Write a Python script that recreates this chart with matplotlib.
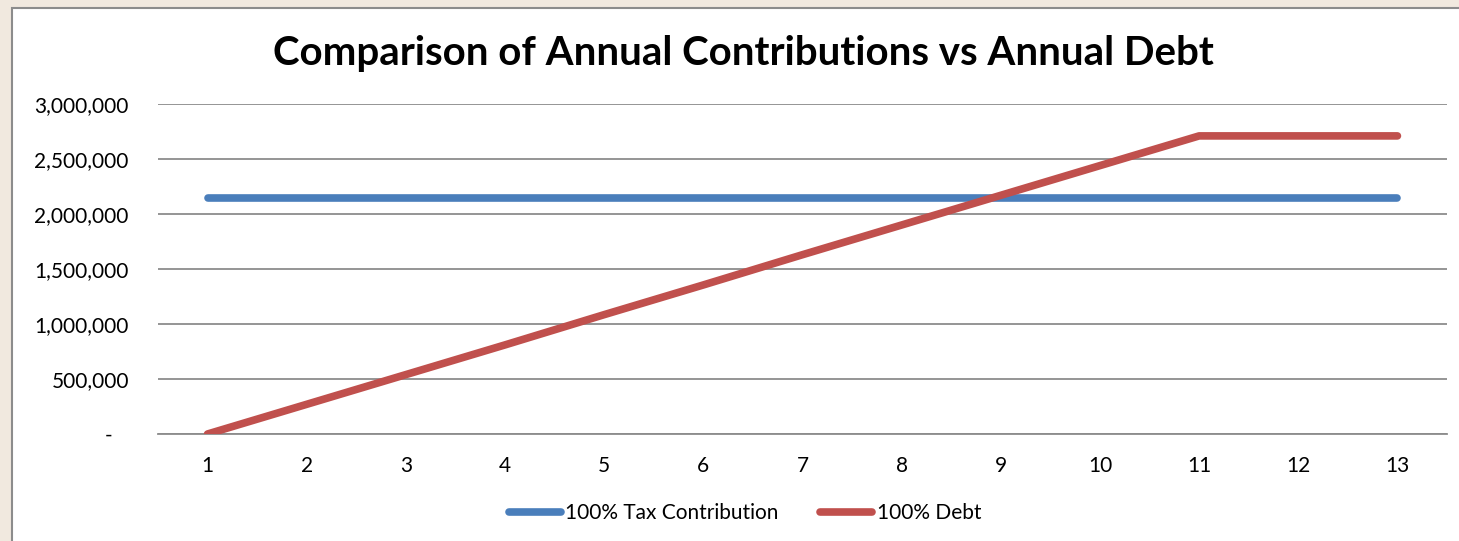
import matplotlib.pyplot as plt
from matplotlib.patches import Rectangle
from matplotlib.ticker import FuncFormatter

# Data
years = list(range(1, 14))
tax_contribution = [2150000] * 13
debt = [0, 270000, 540000, 810000, 1085000, 1355000, 1630000,
        1900000, 2170000, 2440000, 2710000, 2710000, 2710000]
series_labels = ["100% Tax Contribution", "100% Debt"]
title = "Comparison of Annual Contributions vs Annual Debt"

plt.rcParams['font.family'] = ['Lato', 'DejaVu Sans']

W, H = 1459, 541
fig = plt.figure(figsize=(W / 100, H / 100), dpi=100)
fig.patch.set_facecolor('#f1e9df')

# white chart frame (extends off the right/bottom edges like the original)
frame = Rectangle((12 / W, -0.05), 1.1, 1.05 - 8 / H,
                  transform=fig.transFigure, facecolor='white',
                  edgecolor='#8c8c8c', linewidth=1.5, zorder=-10)
fig.patches.append(frame)

ax = fig.add_axes([158 / W, 1 - 434 / H, (1447 - 158) / W, (434 - 104) / H])
ax.set_zorder(2)
ax.patch.set_alpha(0)

ax.plot(years, tax_contribution, color='#4a7ebb', lw=5.5,
        solid_capstyle='round', label=series_labels[0], zorder=3)
ax.plot(years, debt, color='#c0504d', lw=5.5,
        solid_capstyle='round', solid_joinstyle='round',
        label=series_labels[1], zorder=4)

ax.set_xlim(0.5, 13.5)
ax.set_ylim(0, 3000000)
ax.set_xticks(years)
ax.set_yticks(range(0, 3000001, 500000))
# accounting style: zero shown as a dash, padded like Excel does
ax.yaxis.set_major_formatter(
    FuncFormatter(lambda v, p: '-   ' if v == 0 else f"{int(v):,}"))

ax.grid(axis='y', color='#8c8c8c', lw=1.3)
ax.set_axisbelow(True)
for s in ['top', 'right', 'left']:
    ax.spines[s].set_visible(False)
ax.spines['bottom'].set_color('#8c8c8c')
ax.spines['bottom'].set_linewidth(1.3)
ax.tick_params(axis='both', length=0, labelsize=15, colors='black')
ax.tick_params(axis='y', pad=21)
ax.tick_params(axis='x', pad=16)

fig.text(743 / W, 1 - 54 / H, title, ha='center', va='center',
         fontsize=29, fontweight='bold', zorder=5)

leg = fig.legend(loc='center', bbox_to_anchor=(745 / W, 1 - 513 / H),
                 ncol=2, frameon=False, fontsize=15, handlelength=2.5,
                 handletextpad=0.2, columnspacing=2.0)
leg.set_zorder(5)

fig.savefig('out.png', dpi=100, facecolor=fig.get_facecolor())
